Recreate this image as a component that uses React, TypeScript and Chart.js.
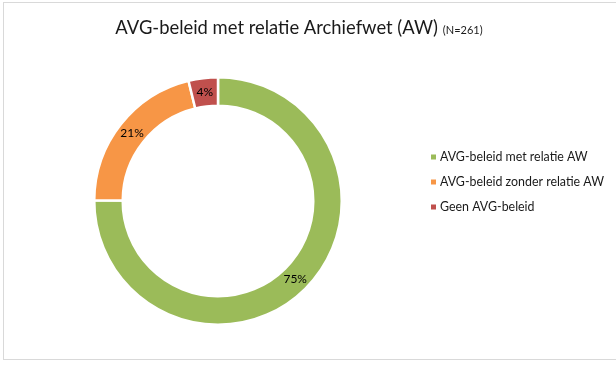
import React, { useEffect, useRef } from "react";
import { Chart, registerables } from "chart.js";

Chart.register(...registerables);

const TITLE_MAIN = "AVG-beleid met relatie Archiefwet (AW)";
const TITLE_NOTE = "(N=261)";
const CATEGORIES = ["AVG-beleid met relatie AW", "AVG-beleid zonder relatie AW", "Geen AVG-beleid"];
const COUNTS = [196, 55, 10];
const LABELS = ["75%", "21%", "4%"];
const COLORS = ["#9BBB59", "#F79646", "#C0504D"];

const FONT = "Lato, 'Open Sans', 'Liberation Sans', sans-serif";

const overlayPlugin = {
  id: "overlay",
  afterDraw(chart: any) {
    const ctx = chart.ctx;
    ctx.save();
    // Title
    ctx.textBaseline = "alphabetic";
    ctx.fillStyle = "#1a1a1a";
    ctx.font = `18.4px ${FONT}`;
    const w1 = ctx.measureText(TITLE_MAIN).width;
    ctx.font = `11px ${FONT}`;
    const w2 = ctx.measureText(TITLE_NOTE).width;
    const gap = 5;
    const total = w1 + gap + w2;
    const x0 = 299 - total / 2;
    ctx.font = `18.4px ${FONT}`;
    ctx.textAlign = "left";
    ctx.fillText(TITLE_MAIN, x0, 34);
    ctx.font = `11px ${FONT}`;
    ctx.fillText(TITLE_NOTE, x0 + w1 + gap, 34);

    // Percent labels
    const meta = chart.getDatasetMeta(0);
    ctx.font = `12px ${FONT}`;
    ctx.fillStyle = "#000000";
    ctx.textAlign = "center";
    ctx.textBaseline = "middle";
    meta.data.forEach((arc: any, i: number) => {
      const p = arc.getCenterPoint();
      ctx.fillText(LABELS[i], p.x, p.y);
    });

    // Legend
    ctx.textAlign = "left";
    ctx.font = `12.4px ${FONT}`;
    CATEGORIES.forEach((name, i) => {
      const y = 157 + i * 25;
      ctx.fillStyle = COLORS[i];
      ctx.fillRect(431, y - 2.5, 5, 5);
      ctx.fillStyle = "#1a1a1a";
      ctx.fillText(name, 440, y);
    });
    ctx.restore();
  },
};

export default function App() {
  const ref = useRef<HTMLCanvasElement | null>(null);
  useEffect(() => {
    document.body.style.margin = "0";
    const chart = new Chart(ref.current as HTMLCanvasElement, {
      type: "doughnut",
      data: {
        labels: CATEGORIES,
        datasets: [
          {
            data: COUNTS,
            backgroundColor: COLORS,
            borderColor: "#ffffff",
            borderWidth: 2.5,
            hoverOffset: 0,
          },
        ],
      },
      options: {
        animation: false,
        responsive: false,
        cutout: "77%",
        rotation: 0,
        layout: { padding: { top: 76, bottom: 42, left: 93, right: 273 } },
        plugins: {
          legend: { display: false },
          title: { display: false },
          tooltip: { enabled: false },
        },
      },
      plugins: [overlayPlugin],
    });
    return () => chart.destroy();
  }, []);
  return (
    <div style={{ position: "relative", width: 616, height: 368, overflow: "hidden", background: "#fff" }}>
      <div
        style={{
          position: "absolute",
          left: 3,
          top: 2,
          width: 640,
          height: 358,
          border: "1px solid #d9d9d9",
          boxSizing: "border-box",
        }}
      />
      <canvas ref={ref} width={616} height={368} style={{ position: "absolute", left: 0, top: 0 }} />
    </div>
  );
}
